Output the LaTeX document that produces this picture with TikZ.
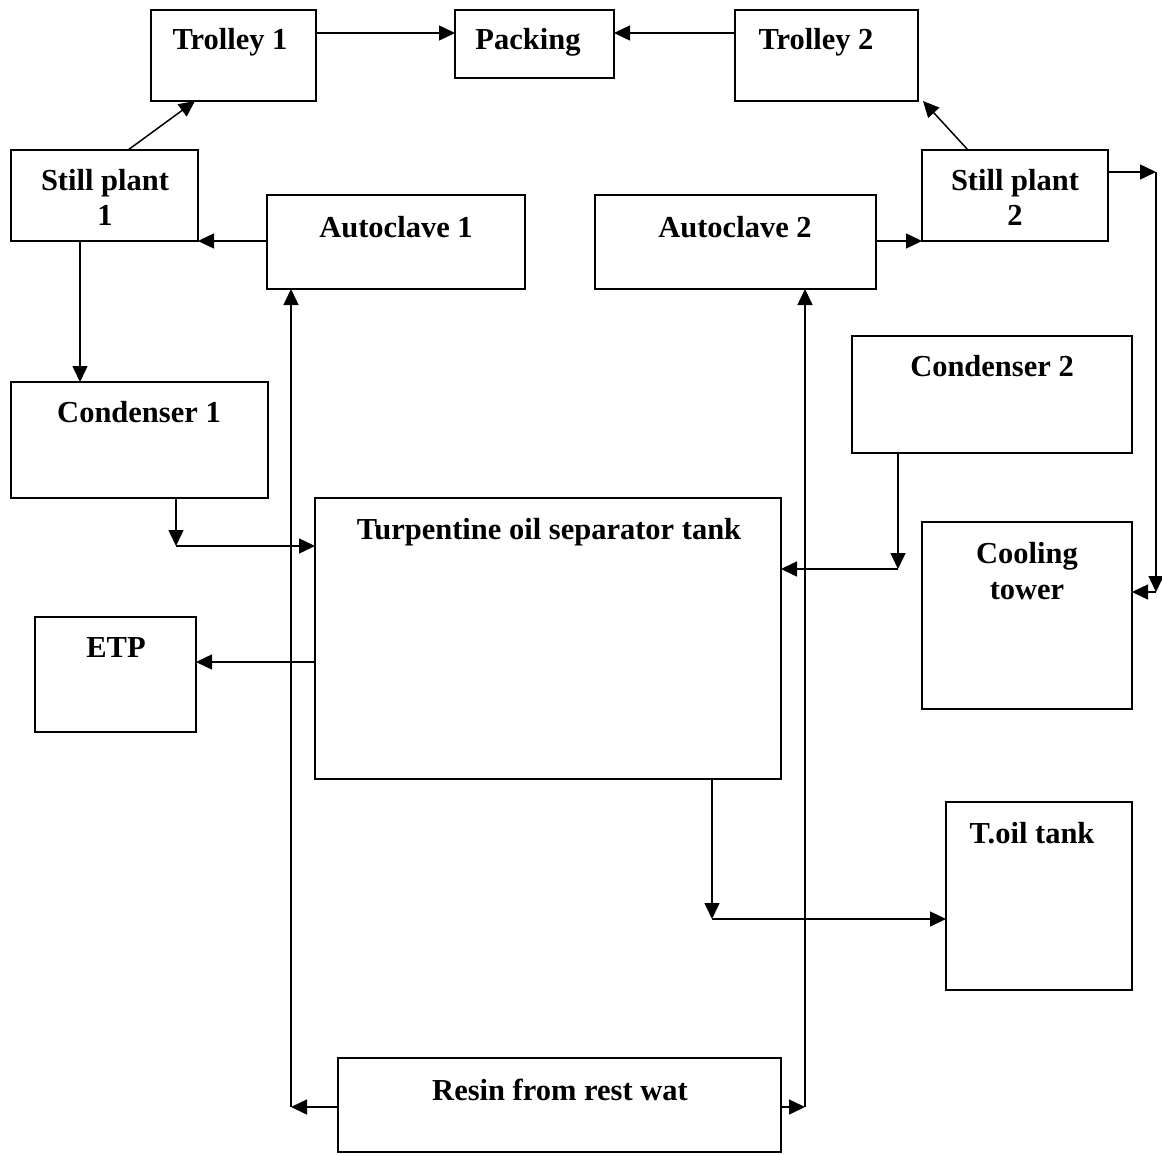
\documentclass[tikz,border=0pt]{standalone}
\usepackage{fontspec}
\setmainfont{Liberation Serif}
\usetikzlibrary{arrows.meta,calc}
\newcommand\mkbox[5]{\node[box, minimum width={(#4-#2)*1pt}, minimum height={(#5-#3)*1pt}] (#1) at (#2,#3) {};}
\begin{document}
\begin{tikzpicture}[x=1pt,y=-1pt,
 box/.style={draw, line width=1.5pt, inner sep=0pt, outer sep=0pt, anchor=north west},
 lbl/.style={font=\fontsize{30.5}{36}\selectfont\bfseries, inner sep=0pt, anchor=base},
 arr/.style={line width=1.5pt, -{Triangle[length=16pt,width=15pt]}}]
\useasboundingbox (0,0) rectangle (1162,1156);
% boxes
\mkbox{t1}{151}{10}{316}{101}
\mkbox{pk}{455}{10}{614}{78}
\mkbox{t2}{735}{10}{918}{101}
\mkbox{sp1}{11}{150}{198}{241}
\mkbox{ac1}{267}{195}{525}{289}
\mkbox{ac2}{595}{195}{876}{289}
\mkbox{sp2}{922}{150}{1108}{241}
\mkbox{cd1}{11}{382}{268}{498}
\mkbox{cd2}{852}{336}{1132}{453}
\mkbox{tk}{315}{498}{781}{779}
\mkbox{ct}{922}{522}{1132}{709}
\mkbox{etp}{35}{617}{196}{732}
\mkbox{toil}{946}{802}{1132}{990}
\mkbox{rs}{338}{1058}{781}{1152}
% labels
\node[lbl] (t1t) at (230,50) {Trolley 1};
\node[lbl] (pkt) at (528,50) {Packing};
\node[lbl] (t2t) at (816,50) {Trolley 2};
\node[lbl] (sp1a) at (105,190) {Still plant};
\node[lbl] (sp1b) at (105,225) {1};
\node[lbl] (ac1t) at (396,237) {Autoclave 1};
\node[lbl] (ac2t) at (735,237) {Autoclave 2};
\node[lbl] (sp2a) at (1015,190) {Still plant};
\node[lbl] (sp2b) at (1015,225) {2};
\node[lbl] (cd1t) at (139,422) {Condenser 1};
\node[lbl] (cd2t) at (992,376) {Condenser 2};
\node[lbl] (tkt) at (549,539) {Turpentine oil separator tank};
\node[lbl] (cta) at (1027,563) {Cooling};
\node[lbl] (ctb) at (1027,599) {tower};
\node[lbl] (etpt) at (116,657) {ETP};
\node[lbl] (toilt) at (1032,843) {T.oil tank};
\node[lbl] (rst) at (560,1100) {Resin from rest wat};
% helper coordinates
\coordinate (a1) at (0,33);
\coordinate (c1) at (176,546);
\coordinate (c2) at (898,569);
\coordinate (s2r) at (1156,172);
\coordinate (s2d) at (1156,592);
\coordinate (e1) at (0,662);
\coordinate (o1) at (712,919);
\coordinate (r1) at (291,1107);
\coordinate (r2) at (805,1107);
\coordinate (l1) at (0,241);
\coordinate (v1) at (80,0);
% connectors
\draw[arr] (t1.east |- a1) -- (pk.west |- a1);
\draw[arr] (t2.west |- a1) -- (pk.east |- a1);
\draw[arr] ($(sp1.north west)+(117,0)$) -- ($(t1.south west)+(44,0)$);
\draw[arr] ($(sp2.north west)+(46,0)$) -- ($(t2.south west)+(188,0)$);
\draw[arr] (ac1.west |- l1) -- (sp1.east |- l1);
\draw[arr] (ac2.east |- l1) -- (sp2.west |- l1);
\draw[arr] (sp1.south -| v1) -- (cd1.north -| v1);
\draw[arr] (cd1.south -| c1) -- (c1);
\draw[arr] (c1) -- (tk.west |- c1);
\draw[arr] (cd2.south -| c2) -- (c2);
\draw[arr] (c2) -- (tk.east |- c2);
\draw[arr] (sp2.east |- s2r) -- (s2r);
\draw[arr] (s2r) -- (s2d);
\draw[arr] (s2d) -- (ct.east |- s2d);
\draw[arr] (tk.west |- e1) -- (etp.east |- e1);
\draw[arr] (tk.south -| o1) -- (o1);
\draw[arr] (o1) -- (toil.west |- o1);
\draw[arr] (rs.west |- r1) -- (r1);
\draw[arr] (r1) -- (ac1.south -| r1);
\draw[arr] (rs.east |- r2) -- (r2);
\draw[arr] (r2) -- (ac2.south -| r2);
\end{tikzpicture}
\end{document}
